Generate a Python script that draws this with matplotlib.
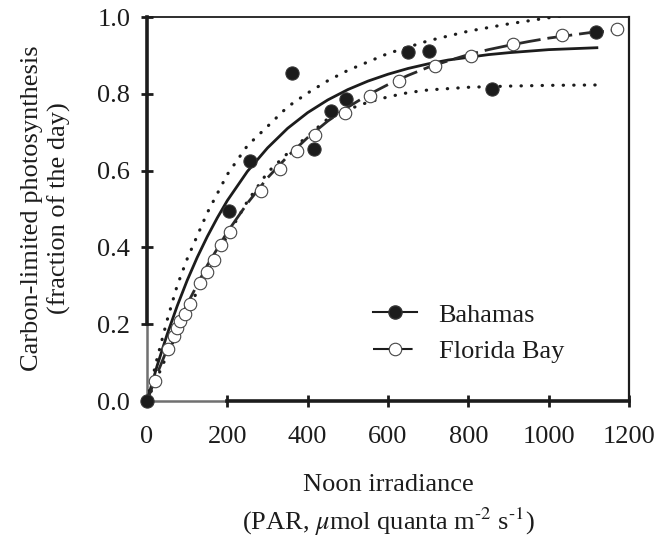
import matplotlib
matplotlib.use("Agg")
import matplotlib.pyplot as plt
from matplotlib.lines import Line2D

plt.rcParams['font.family'] = ['Liberation Serif', 'DejaVu Serif']
plt.rcParams['mathtext.fontset'] = 'stix'

# measured points
bah_x = [0, 205, 256, 360, 416, 457, 495, 650, 703, 858, 1118]
bah_y = [0, 0.496, 0.624, 0.854, 0.655, 0.756, 0.786, 0.908, 0.912, 0.812, 0.960]

fla_x = [20, 53, 66, 74, 82, 95, 107, 132, 149, 168, 184, 207, 283, 331, 373,
         418, 493, 555, 627, 717, 807, 910, 1032, 1171]
fla_y = [0.052, 0.135, 0.170, 0.191, 0.209, 0.226, 0.252, 0.306, 0.335, 0.367,
         0.405, 0.439, 0.548, 0.605, 0.650, 0.694, 0.751, 0.793, 0.833, 0.872,
         0.898, 0.929, 0.953, 0.970]

# fitted curve for Bahamas
bfit_x = [0, 25, 50, 75, 100, 125, 150, 175, 200, 250, 300, 350, 400, 450, 500,
          550, 600, 650, 700, 750, 800, 850, 900, 1000, 1120]
bfit_y = [0, 0.091, 0.173, 0.247, 0.314, 0.374, 0.428, 0.477, 0.522, 0.598,
          0.659, 0.710, 0.751, 0.784, 0.811, 0.833, 0.851, 0.866, 0.878, 0.888,
          0.895, 0.902, 0.907, 0.915, 0.920]

# confidence band, upper and lower
up_x = [0, 25, 50, 75, 100, 150, 200, 250, 300, 350, 400, 450, 500, 600, 700,
        800, 900, 1000, 1130]
up_y = [0, 0.11, 0.21, 0.30, 0.37, 0.49, 0.59, 0.665, 0.715, 0.766, 0.802,
        0.834, 0.861, 0.905, 0.938, 0.963, 0.982, 0.998, 1.015]

lo_x = [0, 50, 100, 150, 200, 250, 300, 350, 400, 450, 500, 550, 600, 650, 700,
        800, 900, 1000, 1120]
lo_y = [0, 0.12, 0.235, 0.335, 0.43, 0.52, 0.595, 0.645, 0.69, 0.735, 0.759,
        0.778, 0.792, 0.803, 0.81, 0.817, 0.82, 0.822, 0.823]

# fitted curve for Florida Bay
ffit_x = [0, 25, 50, 75, 100, 150, 200, 250, 300, 350, 400, 450, 500, 550, 600,
          650, 700, 750, 800, 850, 900, 950, 1000, 1050, 1100, 1180]
ffit_y = [0, 0.070, 0.135, 0.195, 0.252, 0.353, 0.440, 0.515, 0.581, 0.637,
          0.686, 0.729, 0.765, 0.797, 0.824, 0.848, 0.869, 0.886, 0.902, 0.915,
          0.926, 0.936, 0.945, 0.952, 0.959, 0.967]

xticks = [0, 200, 400, 600, 800, 1000, 1200]
yticks = [0.0, 0.2, 0.4, 0.6, 0.8, 1.0]

ink = '#1c1c1c'
fs = 19

fig = plt.figure(figsize=(6.7, 5.39), dpi=100)
ax = fig.add_axes([147 / 670, 1 - 401 / 539, 482 / 670, 384 / 539])

ax.plot(up_x, up_y, color=ink, lw=2.3, dashes=(0.1, 3.2),
        dash_capstyle='round', zorder=2)
ax.plot(lo_x, lo_y, color=ink, lw=2.3, dashes=(0.1, 3.2),
        dash_capstyle='round', zorder=2)
ax.plot(bfit_x, bfit_y, color=ink, lw=2.0, zorder=3)
ax.plot(ffit_x, ffit_y, color='#2a2a2a', lw=2.0, dashes=(9, 2.5), zorder=3)

ax.plot(fla_x, fla_y, ls='none', marker='o', ms=9, mfc='white',
        mec='#444444', mew=0.8, zorder=4, clip_on=False)
ax.plot(bah_x, bah_y, ls='none', marker='o', ms=9.5, mfc=ink,
        mec='#333333', mew=0.8, zorder=5, clip_on=False)

ax.set_xlim(0, 1200)
ax.set_ylim(0, 1.0)
ax.set_xticks(xticks)
ax.set_yticks(yticks)
ax.set_xticklabels([str(t) for t in xticks])
ax.set_yticklabels(['%.1f' % t for t in yticks])

ax.tick_params(direction='inout', length=8, width=2.0, colors=ink,
               labelsize=fs)
ax.tick_params(axis='x', pad=14)
ax.tick_params(axis='y', pad=8)

# axis frame: thick left/bottom, grey near the origin
ax.spines['left'].set_bounds(0.2, 1.0)
ax.spines['bottom'].set_bounds(200, 1200)
ax.spines['left'].set_linewidth(2.6)
ax.spines['bottom'].set_linewidth(2.6)
ax.spines['top'].set_linewidth(1.3)
ax.spines['right'].set_linewidth(1.6)
for s in ax.spines.values():
    s.set_color(ink)
ax.plot([0, 0], [0, 0.2], color='#707070', lw=1.8, clip_on=False, zorder=1)
ax.plot([0, 200], [0, 0], color='#707070', lw=1.8, clip_on=False, zorder=1)

handles = [
    Line2D([], [], color=ink, lw=1.5, marker='o', ms=9.5, mfc=ink,
           mec='#333333'),
    Line2D([], [], color=ink, lw=1.5, dashes=(8, 3), marker='o', ms=9,
           mfc='white', mec='#444444', mew=0.8),
]
ax.legend(handles, ['Bahamas', 'Florida Bay'], loc='upper left',
          bbox_to_anchor=(0.468, 0.255), frameon=False, fontsize=fs,
          handlelength=1.7, handletextpad=0.8, labelspacing=0.5,
          borderpad=0, borderaxespad=0, labelcolor=ink)

fig.text(46 / 670, 1 - 208 / 539,
         'Carbon-limited photosynthesis\n(fraction of the day)',
         rotation=90, ha='center', va='center', fontsize=fs, color=ink,
         linespacing=1.3)
fig.text(388 / 670, 1 - 506 / 539,
         'Noon irradiance\n(PAR, $\\mu$mol quanta m$^{\\text{-2}}$ s$^{\\text{-1}}$)',
         ha='center', va='center', fontsize=fs, color=ink, linespacing=1.4)

fig.savefig('out.png', dpi=100)
